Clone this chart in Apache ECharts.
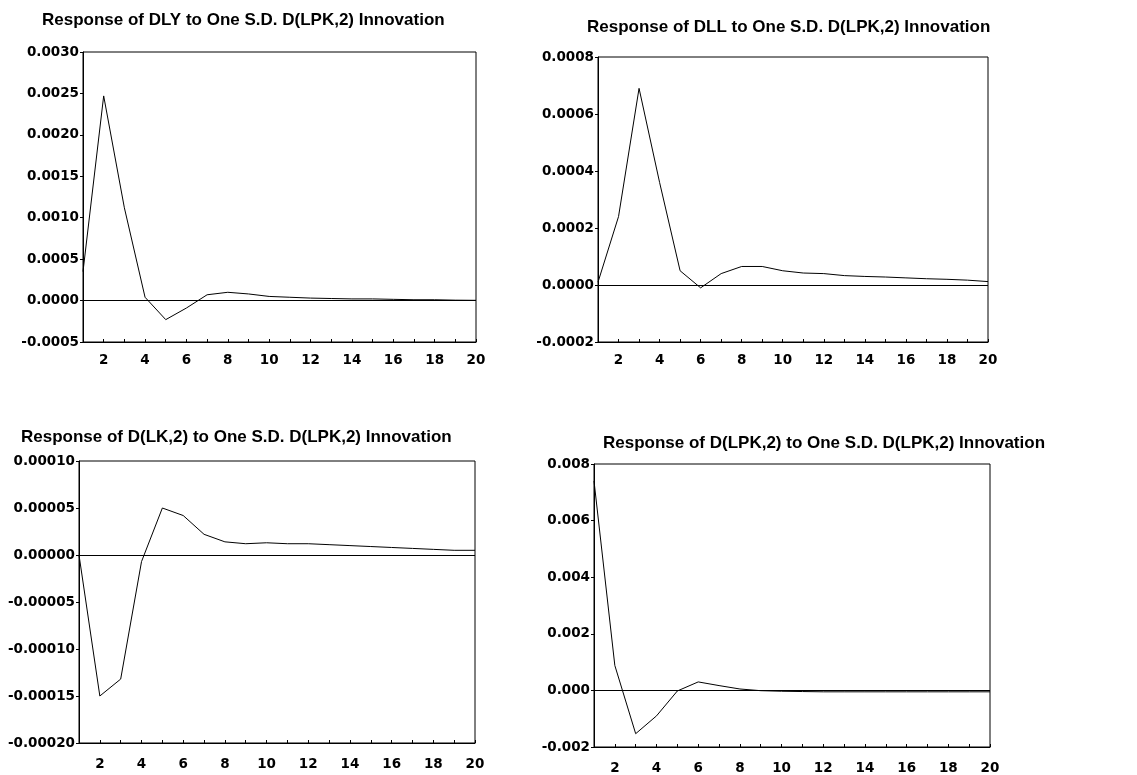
<!DOCTYPE html>
<html>
<head>
<meta charset="utf-8">
<script src="https://cdn.jsdelivr.net/npm/echarts@6/dist/echarts.min.js"></script>
<style>
html,body{margin:0;padding:0;background:#fff;}
#c{width:1137px;height:775px;}
</style>
</head>
<body>
<div id="c"></div>
<script>
// ---- data ----
const periods = [1,2,3,4,5,6,7,8,9,10,11,12,13,14,15,16,17,18,19,20];
const respDLY = [0.00035,0.00247,0.00112,0.00004,-0.00023,-0.00009,0.00007,0.00010,0.00008,0.00005,0.00004,0.00003,0.000025,0.00002,0.00002,0.000015,0.00001,0.00001,0.000005,0.000003];
const respDLL = [0.00001,0.00024,0.00069,0.00036,0.00005,-0.00001,0.00004,0.000065,0.000065,0.00005,0.000042,0.00004,0.000033,0.00003,0.000028,0.000025,0.000022,0.00002,0.000017,0.000012];
const respDLK = [0,-0.00015,-0.000132,-0.000007,0.00005,0.000042,0.000022,0.000014,0.000012,0.000013,0.000012,0.000012,0.000011,0.00001,0.000009,0.000008,0.000007,0.000006,0.000005,0.000005];
const respDLPK = [0.0074,0.00088,-0.00153,-0.0009,-0.00002,0.0003,0.00017,0.00005,-0.00001,-0.00003,-0.00004,-0.00005,-0.00005,-0.00005,-0.00005,-0.00005,-0.00005,-0.00005,-0.00005,-0.00005];

const titles = [
  "Response of DLY to One S.D. D(LPK,2) Innovation",
  "Response of DLL to One S.D. D(LPK,2) Innovation",
  "Response of D(LK,2) to One S.D. D(LPK,2) Innovation",
  "Response of D(LPK,2) to One S.D. D(LPK,2) Innovation"
];
const yMins = [-0.0005, -0.0002, -0.0002, -0.002];
const yMaxs = [0.0030, 0.0008, 0.0001, 0.008];
const yIntervals = [0.0005, 0.0002, 0.00005, 0.002];
const yDecimals = [4, 4, 5, 3];
const seriesData = [respDLY, respDLL, respDLK, respDLPK];

// ---- layout ----
const grids = [
  {left: 83, top: 52, width: 393, height: 290},
  {left: 598, top: 57, width: 390, height: 285},
  {left: 79, top: 461, width: 396, height: 282},
  {left: 594, top: 464, width: 396, height: 284}
];
const titlePos = [
  {left: 42, top: 12},
  {left: 587, top: 19},
  {left: 21, top: 429},
  {left: 603, top: 435}
];
const xLabelMargin = [11, 11, 14, 14];

const labelFont = {fontFamily: 'DejaVu Sans', fontWeight: 'bold', fontSize: 13.5, color: '#000'};

const option = {
  backgroundColor: '#fff',
  animation: false,
  title: titles.map((t, i) => ({
    text: t, left: titlePos[i].left, top: titlePos[i].top, padding: 0,
    textStyle: {fontFamily: 'Liberation Sans', fontWeight: 'bold', fontSize: 17, color: '#000'}
  })),
  grid: grids.map(g => Object.assign({show: true, borderColor: '#000', borderWidth: 1, backgroundColor: '#fff'}, g)),
  xAxis: grids.map((g, i) => ({
    type: 'category', gridIndex: i, data: periods.map(String), boundaryGap: false,
    axisLine: {show: true, onZero: false, lineStyle: {color: '#000', width: 1}},
    axisTick: {show: true, inside: true, length: 3, interval: 0, lineStyle: {color: '#000'}},
    axisLabel: Object.assign({interval: function(idx){ return idx % 2 === 1; }, margin: xLabelMargin[i]}, labelFont),
    splitLine: {show: false}
  })),
  yAxis: grids.map((g, i) => ({
    type: 'value', gridIndex: i, min: yMins[i], max: yMaxs[i], interval: yIntervals[i],
    axisLine: {show: true, onZero: false, lineStyle: {color: '#000', width: 1}},
    axisTick: {show: true, inside: false, length: 3, lineStyle: {color: '#000'}},
    axisLabel: Object.assign({margin: 4, formatter: v => v.toFixed(yDecimals[i])}, labelFont),
    splitLine: {show: false}
  })),
  series: seriesData.map((d, i) => ({
    type: 'line', xAxisIndex: i, yAxisIndex: i, data: d,
    showSymbol: false, symbol: 'none',
    lineStyle: {color: '#000', width: 1},
    markLine: {
      silent: true, symbol: 'none', label: {show: false},
      lineStyle: {color: '#000', width: 1.2, type: 'solid'},
      data: [{yAxis: 0}]
    }
  }))
};

const chart = echarts.init(document.getElementById('c'), null, {renderer: 'canvas'});
chart.setOption(option);
</script>
</body>
</html>
